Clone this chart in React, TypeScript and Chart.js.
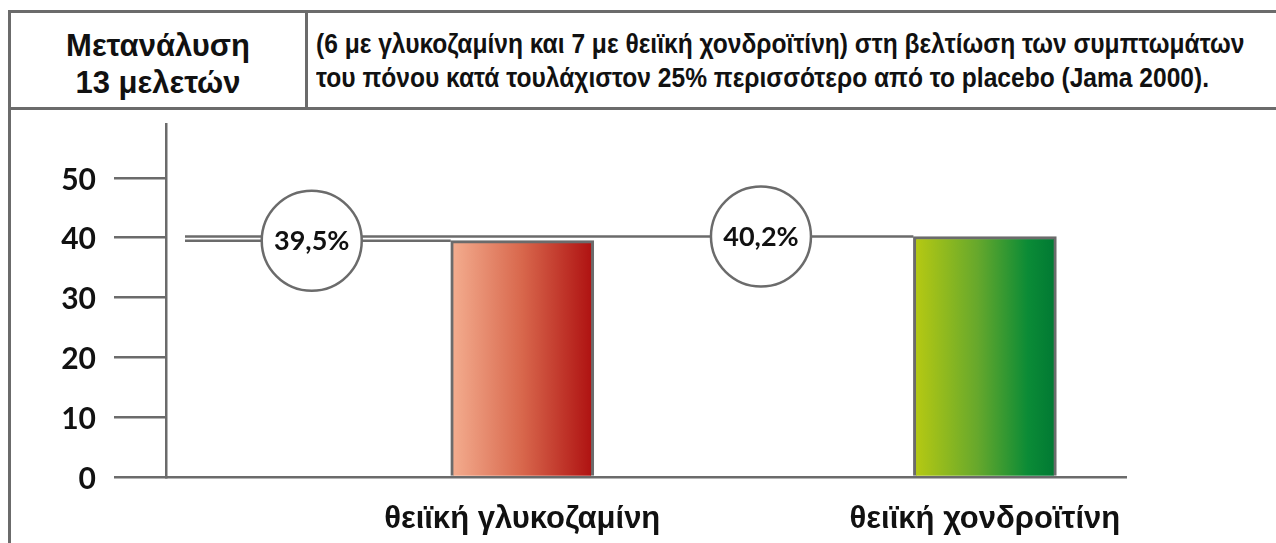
import React, { useEffect, useRef } from "react";
import { Chart, registerables } from "chart.js";

Chart.register(...registerables);

const categories = ["θειϊκή γλυκοζαμίνη", "θειϊκή χονδροϊτίνη"];
const values = [39.5, 40.2];
const valueLabels = ["39,5%", "40,2%"];
const yTickValues = [0, 10, 20, 30, 40, 50];
const titleLines = ["Μετανάλυση", "13 μελετών"];
const noteLines = [
  "(6 με γλυκοζαμίνη και 7 με θειϊκή χονδροϊτίνη) στη βελτίωση των συμπτωμάτων",
  "του πόνου κατά τουλάχιστον 25% περισσότερο από το placebo (Jama 2000).",
];

const GREY = "#6b6b6b";
const TEXT = "#111111";
const BAR_WIDTH = 143;
const gradientStops: [number, string][][] = [
  [[0, "#f4ae90"], [0.5, "#d8674c"], [1, "#ae1010"]],
  [[0, "#b8ca12"], [0.45, "#66a82c"], [0.8, "#0b8b36"], [1, "#007833"]],
];
const calloutShift = [-0.455, -0.484];

const calloutPlugin = {
  id: "callouts",
  afterDatasetsDraw(chart: any) {
    const { ctx, chartArea, scales } = chart;
    const xs = scales.x;
    const ys = scales.y;
    ctx.save();
    ctx.strokeStyle = GREY;
    ctx.lineWidth = 2.5;
    values.forEach((v, i) => {
      const y = ys.getPixelForValue(v);
      const barLeft = xs.getPixelForValue(i + 1) - BAR_WIDTH / 2;
      ctx.beginPath();
      ctx.moveTo(chartArea.left + 19, y);
      ctx.lineTo(barLeft, y);
      ctx.stroke();
    });
    values.forEach((v, i) => {
      const cx = xs.getPixelForValue(i + 1 + calloutShift[i]);
      const cy = ys.getPixelForValue(v);
      ctx.beginPath();
      ctx.arc(cx, cy, 50, 0, Math.PI * 2);
      ctx.fillStyle = "#ffffff";
      ctx.fill();
      ctx.stroke();
      ctx.fillStyle = TEXT;
      ctx.font = "bold 27px Lato";
      ctx.textAlign = "center";
      ctx.textBaseline = "middle";
      ctx.fillText(valueLabels[i], cx, cy + 1);
    });
    ctx.restore();
  },
};

const zeroPadding = (s: any) => {
  s.paddingTop = 0;
  s.paddingBottom = 0;
  s.paddingLeft = 0;
  s.paddingRight = 0;
};

export default function App() {
  const ref = useRef<HTMLCanvasElement>(null);

  useEffect(() => {
    const canvas = ref.current;
    if (!canvas) return;
    const chart = new Chart(canvas, {
      type: "bar",
      data: {
        datasets: [
          {
            data: categories.map((_, i) => ({ x: i + 1, y: values[i] })),
            barThickness: BAR_WIDTH,
            borderColor: GREY,
            borderWidth: 3,
            borderSkipped: "start",
            backgroundColor: (c: any) => {
              const idx = typeof c.dataIndex === "number" ? c.dataIndex : 0;
              const stops = gradientStops[idx] || gradientStops[0];
              const xs = c.chart.scales.x;
              if (!xs) return stops[0][1];
              const cx = xs.getPixelForValue(idx + 1);
              if (!isFinite(cx)) return stops[0][1];
              const g = c.chart.ctx.createLinearGradient(cx - BAR_WIDTH / 2, 0, cx + BAR_WIDTH / 2, 0);
              stops.forEach(([o, col]) => g.addColorStop(o, col));
              return g;
            },
          },
        ],
      },
      options: {
        animation: false,
        responsive: false,
        devicePixelRatio: 1,
        layout: { padding: { top: 14, right: 150, left: 0, bottom: 0 } },
        plugins: { legend: { display: false }, tooltip: { enabled: false } },
        scales: {
          x: {
            type: "linear",
            min: 0.23,
            max: 2.305,
            offset: false,
            grid: { display: false, drawTicks: false },
            border: { display: true, color: GREY, width: 2.5 },
            afterBuildTicks: (s: any) => {
              s.ticks = categories.map((_, i) => ({ value: i + 1 }));
            },
            afterFit: (s: any) => {
              s.height = 66;
              zeroPadding(s);
            },
            ticks: {
              autoSkip: false,
              maxRotation: 0,
              padding: 24,
              color: TEXT,
              font: { family: "'Liberation Sans', Arial, sans-serif", size: 31, weight: "bold" },
              callback: (v: any) => categories[Math.round(v) - 1] ?? "",
            },
          },
          y: {
            min: 0,
            max: 59,
            grid: { drawOnChartArea: false, drawTicks: true, tickLength: 52, color: GREY, lineWidth: 2.5 },
            border: { display: true, color: GREY, width: 2.5 },
            afterBuildTicks: (s: any) => {
              s.ticks = yTickValues.map((v) => ({ value: v }));
            },
            afterFit: (s: any) => {
              s.width = 155;
              zeroPadding(s);
            },
            ticks: {
              padding: 18,
              labelOffset: 2,
              color: TEXT,
              font: { family: "Lato", size: 30, weight: "bold" },
              callback: (v: any) => String(v),
            },
          },
        },
      },
      plugins: [calloutPlugin],
    } as any);
    return () => chart.destroy();
  }, []);

  return (
    <div style={{ position: "absolute", left: 0, top: 0, width: 1276, height: 543, overflow: "hidden", background: "#fff" }}>
      <div style={{ position: "absolute", left: 8, top: 10, width: 3, height: 540, background: GREY }} />
      <div style={{ position: "absolute", left: 8, top: 10, width: 1270, height: 3, background: GREY }} />
      <div style={{ position: "absolute", left: 8, top: 107, width: 1270, height: 3, background: GREY }} />
      <div style={{ position: "absolute", left: 305, top: 10, width: 2.5, height: 98, background: GREY }} />
      <div
        style={{
          position: "absolute",
          left: 11,
          top: 27,
          width: 294,
          textAlign: "center",
          fontFamily: "'Liberation Sans', Arial, sans-serif",
          fontWeight: "bold",
          fontSize: 31,
          lineHeight: "37px",
          color: TEXT,
          whiteSpace: "nowrap",
        }}
      >
        {titleLines.map((l) => (
          <div key={l}>{l}</div>
        ))}
      </div>
      <div
        style={{
          position: "absolute",
          left: 316,
          top: 27,
          fontFamily: "'Liberation Sans', Arial, sans-serif",
          fontWeight: "bold",
          fontSize: 27,
          lineHeight: "34px",
          color: TEXT,
          whiteSpace: "nowrap",
          transform: "scaleX(0.91)",
          transformOrigin: "0 0",
        }}
      >
        {noteLines.map((l) => (
          <div key={l}>{l}</div>
        ))}
      </div>
      <canvas
        ref={ref}
        width={1265}
        height={433}
        style={{ position: "absolute", left: 11, top: 110, width: 1265, height: 433 }}
      />
    </div>
  );
}
